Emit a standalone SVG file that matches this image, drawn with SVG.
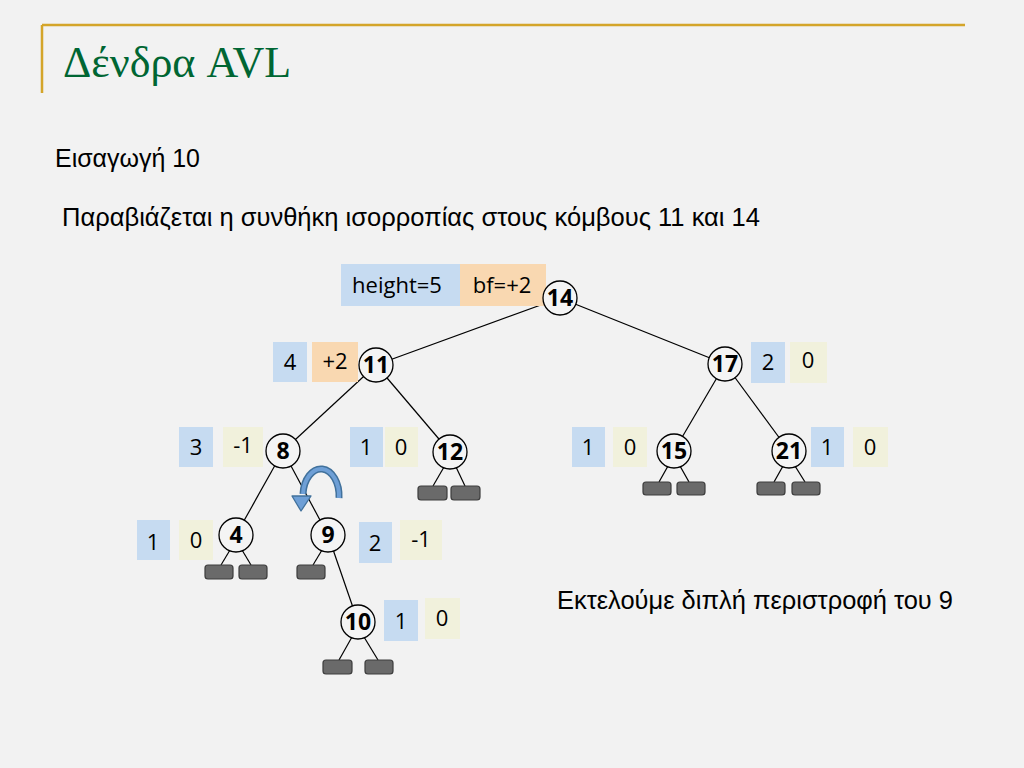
<svg xmlns="http://www.w3.org/2000/svg" width="1024" height="768" viewBox="0 0 1024 768">
<style>
.bg{fill:#f2f2f2}
.txt{font-family:"Liberation Sans",Arial,sans-serif;font-size:25px;fill:#000}
.title{font-family:"Liberation Serif","Times New Roman",serif;font-size:44px;fill:#006633}
.node{fill:#f4f4f4;stroke:#000;stroke-width:1.3}
.num{font-family:"Open Sans","Liberation Sans",sans-serif;font-size:23px;font-weight:bold;fill:#000;text-anchor:middle}
.lbl{font-family:"Open Sans","Liberation Sans",sans-serif;font-size:22px;fill:#000;text-anchor:middle}
.h{fill:#c6dbf1}
.bo{fill:#f9d8b1}
.by{fill:#f1f1dc}
.leaf{fill:#6a6a6a;stroke:#3d3d3d;stroke-width:1.2}
.edge{stroke:#000;stroke-width:1.2;fill:none}
</style>
<rect class="bg" x="0" y="0" width="1024" height="768"/>
<g id="header">
<path d="M42,25 H965 M42,25 V93" stroke="#d4a52a" stroke-width="2.5" fill="none"/>
<text class="title" x="63" y="77">Δένδρα AVL</text>
<text class="txt" x="55" y="167" textLength="145" lengthAdjust="spacingAndGlyphs">Εισαγωγή 10</text>
<text class="txt" x="62" y="226" textLength="698" lengthAdjust="spacingAndGlyphs">Παραβιάζεται η συνθήκη ισορροπίας στους κόμβους 11 και 14</text>
<text class="txt" x="557" y="609" textLength="396" lengthAdjust="spacingAndGlyphs">Εκτελούμε διπλή περιστροφή του 9</text>
</g>
<g id="connectors">
<line class="edge" x1="560" y1="298" x2="376" y2="365"/>
<line class="edge" x1="560" y1="298" x2="725" y2="364"/>
<line class="edge" x1="376" y1="365" x2="283" y2="451"/>
<line class="edge" x1="376" y1="365" x2="450" y2="452"/>
<line class="edge" x1="725" y1="364" x2="674" y2="451"/>
<line class="edge" x1="725" y1="364" x2="789" y2="451"/>
<line class="edge" x1="283" y1="451" x2="236" y2="535"/>
<line class="edge" x1="283" y1="451" x2="328" y2="535"/>
<line class="edge" x1="328" y1="535" x2="358" y2="622"/>
<line class="edge" x1="444" y1="467" x2="433" y2="486"/>
<line class="edge" x1="456" y1="467" x2="465" y2="486"/>
<line class="edge" x1="668" y1="466" x2="659" y2="482"/>
<line class="edge" x1="680" y1="466" x2="689" y2="482"/>
<line class="edge" x1="783" y1="466" x2="774" y2="482"/>
<line class="edge" x1="795" y1="466" x2="805" y2="482"/>
<line class="edge" x1="230" y1="550" x2="221" y2="565"/>
<line class="edge" x1="242" y1="550" x2="251" y2="565"/>
<line class="edge" x1="322" y1="550" x2="313" y2="565"/>
<line class="edge" x1="352" y1="637" x2="339" y2="660"/>
<line class="edge" x1="364" y1="637" x2="378" y2="660"/>
</g>
<g id="leaves">
<rect class="leaf" x="418" y="486" width="29" height="14" rx="3"/>
<rect class="leaf" x="451" y="486" width="29" height="14" rx="3"/>
<rect class="leaf" x="643" y="482" width="28" height="13" rx="3"/>
<rect class="leaf" x="677" y="482" width="28" height="13" rx="3"/>
<rect class="leaf" x="757" y="482" width="28" height="13" rx="3"/>
<rect class="leaf" x="792" y="482" width="28" height="13" rx="3"/>
<rect class="leaf" x="205" y="565" width="28" height="14" rx="3"/>
<rect class="leaf" x="239" y="565" width="28" height="14" rx="3"/>
<rect class="leaf" x="297" y="565" width="28" height="14" rx="3"/>
<rect class="leaf" x="323" y="660" width="29" height="14" rx="3"/>
<rect class="leaf" x="365" y="660" width="28" height="14" rx="3"/>
</g>
<g id="n14">
<rect class="h" x="341" y="264" width="119" height="42"/>
<rect class="bo" x="460" y="264" width="86" height="42"/>
<text class="lbl" x="397" y="293">height=5</text>
<text class="lbl" x="502" y="293">bf=+2</text>
<circle class="node" cx="560" cy="298" r="17"/>
<text class="num" x="560" y="306">14</text>
</g>
<g id="n11">
<rect class="h" x="273" y="342" width="34" height="40"/>
<rect class="bo" x="312" y="342" width="46" height="40"/>
<text class="lbl" x="290" y="370">4</text>
<text class="lbl" x="335" y="369">+2</text>
<circle class="node" cx="376" cy="365" r="17"/>
<text class="num" x="376" y="373">11</text>
</g>
<g id="n17">
<rect class="h" x="751" y="342" width="34" height="41"/>
<rect class="by" x="790" y="342" width="37" height="41"/>
<text class="lbl" x="768" y="370">2</text>
<text class="lbl" x="808" y="368">0</text>
<circle class="node" cx="725" cy="364" r="17"/>
<text class="num" x="725" y="372">17</text>
</g>
<g id="n8">
<rect class="h" x="179" y="427" width="34" height="40"/>
<rect class="by" x="223" y="427" width="40" height="40"/>
<text class="lbl" x="196" y="455">3</text>
<text class="lbl" x="243" y="453">-1</text>
<circle class="node" cx="283" cy="451" r="17"/>
<text class="num" x="283" y="459">8</text>
</g>
<g id="n12">
<rect class="h" x="350" y="427" width="33" height="40"/>
<rect class="by" x="385" y="427" width="33" height="40"/>
<text class="lbl" x="366" y="455">1</text>
<text class="lbl" x="401" y="455">0</text>
<circle class="node" cx="450" cy="452" r="17"/>
<text class="num" x="450" y="460">12</text>
</g>
<g id="n15">
<rect class="h" x="572" y="427" width="33" height="40"/>
<rect class="by" x="613" y="427" width="34" height="40"/>
<text class="lbl" x="588" y="455">1</text>
<text class="lbl" x="630" y="455">0</text>
<circle class="node" cx="674" cy="451" r="17"/>
<text class="num" x="674" y="459">15</text>
</g>
<g id="n21">
<rect class="h" x="811" y="427" width="33" height="40"/>
<rect class="by" x="853" y="427" width="35" height="40"/>
<text class="lbl" x="827" y="455">1</text>
<text class="lbl" x="870" y="455">0</text>
<circle class="node" cx="789" cy="451" r="17"/>
<text class="num" x="789" y="459">21</text>
</g>
<g id="n4">
<rect class="h" x="137" y="520" width="33" height="40"/>
<rect class="by" x="179" y="520" width="34" height="40"/>
<text class="lbl" x="153" y="550">1</text>
<text class="lbl" x="196" y="548">0</text>
<circle class="node" cx="236" cy="535" r="17"/>
<text class="num" x="236" y="543">4</text>
</g>
<g id="n9">
<rect class="h" x="359" y="522" width="33" height="41"/>
<rect class="by" x="400" y="520" width="42" height="40"/>
<text class="lbl" x="375" y="551">2</text>
<text class="lbl" x="421" y="547">-1</text>
<circle class="node" cx="328" cy="535" r="17"/>
<text class="num" x="328" y="543">9</text>
</g>
<g id="n10">
<rect class="h" x="384" y="600" width="34" height="41"/>
<rect class="by" x="425" y="598" width="35" height="41"/>
<text class="lbl" x="401" y="629">1</text>
<text class="lbl" x="442" y="626">0</text>
<circle class="node" cx="358" cy="622" r="17"/>
<text class="num" x="358" y="630">10</text>
</g>
<g id="rotation">
<path d="M339,498 A18,27 0 0 0 303,494" fill="none" stroke="#41719c" stroke-width="7"/>
<path d="M339,498 A18,27 0 0 0 303,494" fill="none" stroke="#6e9fd6" stroke-width="4"/>
<polygon points="292,496 311,496 301,511" fill="#6e9fd6" stroke="#41719c" stroke-width="1.3" stroke-linejoin="round"/>
</g>
</svg>
